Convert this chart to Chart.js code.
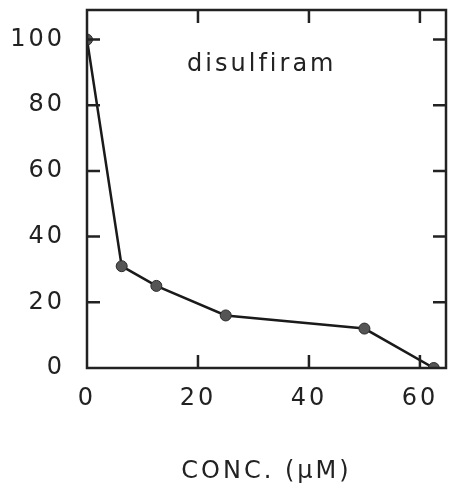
<!DOCTYPE html>
<html lang="en">
<head>
<meta charset="UTF-8">
<title>disulfiram</title>
<script src="https://cdn.jsdelivr.net/npm/chart.js"></script>
<style>
  html, body { margin: 0; padding: 0; background: #fff; }
  #wrap { width: 455px; height: 494px; }
</style>
</head>
<body>
<div id="wrap"><canvas id="grafico"></canvas></div>
<script>
// data
const concentraciones = [0, 6.25, 12.5, 25, 50, 62.5];
const actividad = [100, 31, 25, 16, 12, 0];
const xTicks = [0, 20, 40, 60];
const yTicks = [0, 20, 40, 60, 80, 100];
const rotulo = 'disulfiram';
const tituloX = 'CONC. (\u03BCM)';

// frame + inward tick marks + label inside the plot
const marco = {
  id: 'marco',
  beforeDraw(chart) {
    chart.ctx.letterSpacing = '3px';
  },
  afterDraw(chart) {
    const { ctx, chartArea: a, scales } = chart;
    const L = 13;
    ctx.save();
    ctx.strokeStyle = '#222';
    ctx.lineWidth = 2.5;
    ctx.strokeRect(a.left, a.top, a.right - a.left, a.bottom - a.top);
    ctx.beginPath();
    xTicks.filter(v => v > 0).forEach(v => {
      const x = scales.x.getPixelForValue(v);
      ctx.moveTo(x, a.bottom); ctx.lineTo(x, a.bottom - L);
      ctx.moveTo(x, a.top); ctx.lineTo(x, a.top + L);
    });
    yTicks.filter(v => v > 0).forEach(v => {
      const y = scales.y.getPixelForValue(v);
      ctx.moveTo(a.left, y); ctx.lineTo(a.left + L, y);
      ctx.moveTo(a.right, y); ctx.lineTo(a.right - L, y);
    });
    ctx.stroke();
    ctx.fillStyle = '#222';
    ctx.font = '24px "DejaVu Sans"';
    ctx.letterSpacing = '3px';
    ctx.textAlign = 'center';
    ctx.textBaseline = 'middle';
    ctx.fillText(rotulo, scales.x.getPixelForValue(31.5), scales.y.getPixelForValue(92.4));
    ctx.restore();
  }
};

new Chart(document.getElementById('grafico'), {
  type: 'scatter',
  data: {
    datasets: [{
      data: concentraciones.map((c, i) => ({ x: c, y: actividad[i] })),
      showLine: true,
      borderColor: '#1a1a1a',
      borderWidth: 2.5,
      pointRadius: 5.5,
      pointBackgroundColor: '#555',
      pointBorderColor: '#2a2a2a',
      pointBorderWidth: 1
    }]
  },
  options: {
    responsive: true,
    maintainAspectRatio: false,
    animation: false,
    events: [],
    layout: { autoPadding: false, padding: { top: 10, right: 9, bottom: 4, left: 0 } },
    plugins: { legend: { display: false }, tooltip: { enabled: false } },
    scales: {
      x: {
        type: 'linear',
        min: 0,
        max: 64.7,
        afterBuildTicks: s => { s.ticks = xTicks.map(v => ({ value: v })); },
        afterFit: s => { s.height = 122; s.paddingLeft = 0; s.paddingRight = 0; },
        grid: { display: false, drawTicks: false },
        border: { display: false },
        ticks: { color: '#222', padding: 16, font: { family: 'DejaVu Sans', size: 24 } },
        title: {
          display: true,
          text: tituloX,
          color: '#222',
          font: { family: 'DejaVu Sans', size: 24 }
        }
      },
      y: {
        min: 0,
        max: 109,
        afterBuildTicks: s => { s.ticks = yTicks.map(v => ({ value: v })); },
        afterFit: s => { s.width = 87; s.paddingTop = 0; s.paddingBottom = 0; },
        grid: { display: false, drawTicks: false },
        border: { display: false },
        ticks: { color: '#222', padding: 22, font: { family: 'DejaVu Sans', size: 24 } }
      }
    }
  },
  plugins: [marco]
});
</script>
</body>
</html>
